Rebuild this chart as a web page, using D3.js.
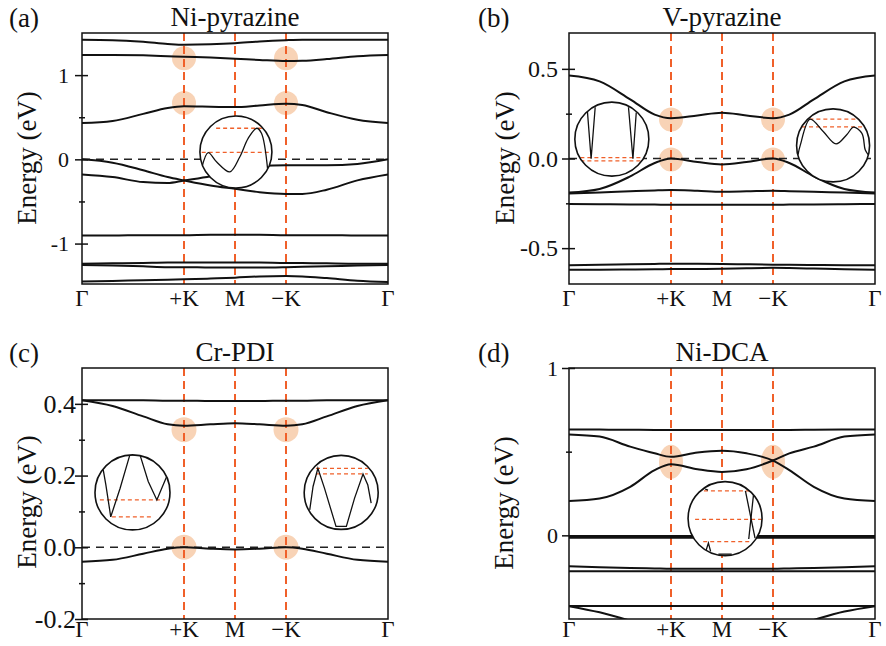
<!DOCTYPE html>
<html>
<head>
<meta charset="utf-8">
<script src="https://cdn.jsdelivr.net/npm/d3@7"></script>
<style>
  body { margin: 0; background: #fff; }
  svg text { font-family: "Liberation Serif", "Times New Roman", serif; fill: #111; }
</style>
</head>
<body>
<svg id="chart" width="886" height="646"></svg>
<script>
// k-path sampling shared by every band (Γ -> +K -> M -> -K -> Γ)
const kGrid = [0, 0.1, 0.2, 0.28, 1 / 3, 0.42, 0.5, 0.58, 2 / 3, 0.72, 0.8, 0.9, 1];
const kTicks = [0, 1 / 3, 1 / 2, 2 / 3, 1];
const kTickLabels = ["Γ", "+K", "M", "−K", "Γ"];
const kMarks = [1 / 3, 1 / 2, 2 / 3];

// (a) Ni-pyrazine bands, eV
const bandsNiPyr = [
  [1.42, 1.415, 1.395, 1.37, 1.36, 1.365, 1.378, 1.4, 1.415, 1.42, 1.42, 1.42, 1.42],
  [1.24, 1.24, 1.235, 1.225, 1.218, 1.208, 1.195, 1.18, 1.167, 1.17, 1.19, 1.225, 1.24],
  [0.43, 0.455, 0.54, 0.61, 0.63, 0.625, 0.62, 0.64, 0.66, 0.645, 0.56, 0.47, 0.43],
  [0, -0.04, -0.13, -0.21, -0.25, -0.31, -0.35, -0.39, -0.41, -0.41, -0.36, -0.25, -0.18],
  [-0.18, -0.21, -0.27, -0.28, -0.25, -0.2, -0.13, -0.08, -0.07, -0.07, -0.07, -0.055, 0],
  [-0.905, -0.905, -0.9, -0.9, -0.9, -0.895, -0.895, -0.895, -0.9, -0.9, -0.9, -0.905, -0.905],
  [-1.24, -1.235, -1.23, -1.225, -1.225, -1.225, -1.225, -1.225, -1.23, -1.23, -1.235, -1.24, -1.24],
  [-1.255, -1.26, -1.27, -1.28, -1.28, -1.285, -1.285, -1.285, -1.28, -1.275, -1.27, -1.26, -1.255],
  [-1.45, -1.445, -1.435, -1.43, -1.425, -1.415, -1.405, -1.39, -1.385, -1.39, -1.41, -1.44, -1.455]
];
// (b) V-pyrazine
const bandsVPyr = [
  [0.463, 0.43, 0.33, 0.245, 0.225, 0.24, 0.255, 0.24, 0.225, 0.245, 0.33, 0.43, 0.463],
  [-0.19, -0.17, -0.1, -0.025, 0, -0.02, -0.033, -0.02, 0, -0.025, -0.1, -0.17, -0.19],
  [-0.195, -0.19, -0.183, -0.178, -0.176, -0.18, -0.185, -0.183, -0.18, -0.182, -0.186, -0.19, -0.195],
  [-0.254, -0.255, -0.256, -0.257, -0.258, -0.258, -0.258, -0.258, -0.258, -0.257, -0.256, -0.255, -0.254],
  [-0.595, -0.593, -0.59, -0.588, -0.587, -0.587, -0.588, -0.59, -0.592, -0.593, -0.594, -0.595, -0.595],
  [-0.62, -0.62, -0.619, -0.618, -0.617, -0.616, -0.615, -0.612, -0.61, -0.611, -0.614, -0.618, -0.62]
];
// (c) Cr-PDI
const bandsCrPdi = [
  [0.41, 0.41, 0.41, 0.409, 0.409, 0.408, 0.408, 0.408, 0.409, 0.409, 0.41, 0.41, 0.41],
  [0.41, 0.394, 0.365, 0.343, 0.339, 0.343, 0.346, 0.343, 0.339, 0.343, 0.365, 0.394, 0.41],
  [-0.04, -0.035, -0.018, -0.004, 0, -0.004, -0.006, -0.004, 0, -0.004, -0.018, -0.035, -0.04]
];
// (d) Ni-DCA
const bandsNiDca = [
  [0.633, 0.632, 0.631, 0.63, 0.63, 0.629, 0.629, 0.629, 0.63, 0.63, 0.631, 0.632, 0.633],
  [0.603, 0.59, 0.53, 0.49, 0.469, 0.495, 0.505, 0.49, 0.447, 0.39, 0.29, 0.22, 0.205],
  [0.205, 0.22, 0.29, 0.39, 0.425, 0.395, 0.379, 0.395, 0.447, 0.49, 0.53, 0.59, 0.603],
  [-0.004, -0.004, -0.004, -0.004, -0.004, -0.004, -0.004, -0.004, -0.004, -0.004, -0.004, -0.004, -0.004],
  [-0.014, -0.014, -0.014, -0.014, -0.014, -0.014, -0.014, -0.014, -0.014, -0.014, -0.014, -0.014, -0.014],
  [-0.185, -0.19, -0.195, -0.198, -0.2, -0.2, -0.2, -0.2, -0.2, -0.198, -0.195, -0.19, -0.185],
  [-0.214, -0.214, -0.214, -0.214, -0.214, -0.214, -0.214, -0.214, -0.214, -0.214, -0.214, -0.214, -0.214],
  [-0.423, -0.423, -0.423, -0.423, -0.423, -0.423, -0.423, -0.423, -0.423, -0.423, -0.423, -0.423, -0.423],
  [-0.423, -0.46, -0.51, -0.55, -0.57, -0.58, -0.585, -0.58, -0.57, -0.55, -0.505, -0.455, -0.423]
];

// highlighted points [k, E]
const spotsNiPyr = [[1 / 3, 1.2], [2 / 3, 1.2], [1 / 3, 0.67], [2 / 3, 0.67]];
const spotsVPyr = [[1 / 3, 0.218], [2 / 3, 0.218], [1 / 3, -0.005], [2 / 3, -0.005]];
const spotsCrPdi = [[1 / 3, 0.328], [2 / 3, 0.328], [1 / 3, 0], [2 / 3, 0]];
const spotsNiDca = [[1 / 3, 0.44], [2 / 3, 0.44]];

// y ticks
const yMajorNiPyr = [-1, 0, 1], yLabelsNiPyr = ["-1", "0", "1"], yMinorNiPyr = [-0.5, 0.5];
const yMajorVPyr = [-0.5, 0, 0.5], yLabelsVPyr = ["-0.5", "0.0", "0.5"], yMinorVPyr = [-0.25, 0.25];
const yMajorCrPdi = [-0.2, 0, 0.2, 0.4], yLabelsCrPdi = ["-0.2", "0.0", "0.2", "0.4"], yMinorCrPdi = [-0.1, 0.1, 0.3];
const yMajorNiDca = [0, 1], yLabelsNiDca = ["0", "1"], yMinorNiDca = [0.5];

// magnified insets, in local circle units (-1..1, y down)
const insetNiPyrCurve = [[-0.95, 0.45], [-0.77, 0.02], [-0.54, 0.27], [-0.17, 0.55], [0.11, 0.13], [0.34, -0.38], [0.58, -0.66], [0.71, -0.52], [0.88, 0.47]];
const insetNiPyrDash = [[-0.55, 0.72, -0.66], [-0.95, 0.95, 0.01]];
const insetVPyrLeftCurves = [
  [[-0.66, -0.75], [-0.56, 0.53], [-0.45, -0.86]],
  [[0.45, -0.86], [0.57, 0.53], [0.66, -0.72]]
];
const insetVPyrLeftDash = [[-0.85, 0.85, 0.5], [-0.85, 0.85, 0.59]];
const insetVPyrRightCurve = [[-0.96, 0.25], [-0.9, 0], [-0.63, -0.72], [-0.27, -0.38], [0.08, -0.04], [0.38, -0.3], [0.56, -0.5], [0.79, -0.33], [0.88, 0.12], [0.96, 0.25]];
const insetVPyrRightDash = [[-0.65, 1.08, -0.72], [-0.85, 1.08, -0.51]];
const insetCrLeftCurve = [[-0.78, -0.6], [-0.71, -0.2], [-0.58, 0.65], [-0.33, -0.11], [-0.07, -1.0], [0.2, -1.0], [0.42, -0.29], [0.65, 0.2], [0.78, -0.11], [0.91, -0.42]];
const insetCrLeftDash = [[-0.87, 0.87, 0.2], [-0.55, 0.55, 0.65]];
const insetCrRightCurve = [[-0.85, 0.47], [-0.76, -0.16], [-0.63, -0.65], [-0.45, -0.11], [-0.14, 0.92], [0.14, 0.92], [0.36, 0.16], [0.59, -0.5], [0.72, -0.2], [0.81, 0.29]];
const insetCrRightDash = [[-0.68, 0.72, -0.65], [-0.68, 0.72, -0.5]];
const insetNiDcaCurves = [
  [[0.55, -0.75], [0.81, 0.53]],
  [[0.78, -0.75], [0.64, 0.55]],
  [[-0.51, 0.85], [-0.45, 0.66], [-0.39, 0.89]],
  [[-0.18, 0.96], [0.18, 0.96]],
  [[-0.54, -0.8], [-0.46, -0.77]]
];
const insetNiDcaDash = [[-0.76, 0.95, -0.75], [-0.81, 0.99, 0.02], [-0.59, 0.72, 0.62]];

const ORANGE = "#f0602a";
const SPOT = "#f8d3b6";
const W = 306, H = 251;

const panels = [
  { id: "a", tag: "(a)", title: "Ni-pyrazine", left: 82, top: 33, yDomain: [-1.48, 1.5],
    bands: bandsNiPyr, spots: spotsNiPyr, spotR: [12, 12], fermi: true,
    major: yMajorNiPyr, majorLabels: yLabelsNiPyr, minor: yMinorNiPyr, tickFont: 22, tickPad: 6,
    xLabelDy: 22, yLabelX: -46, yLabelCy: 125, tagX: -73,
    insets: [{ k: 0.503, e: 0.087, r: 36, curves: [insetNiPyrCurve], dash: insetNiPyrDash, smooth: true }] },
  { id: "b", tag: "(b)", title: "V-pyrazine", left: 569, top: 33, yDomain: [-0.7, 0.7],
    bands: bandsVPyr, spots: spotsVPyr, spotR: [12, 12], fermi: true,
    major: yMajorVPyr, majorLabels: yLabelsVPyr, minor: yMinorVPyr, tickFont: 24, tickPad: 4,
    xLabelDy: 22, yLabelX: -55, yLabelCy: 125, tagX: -91,
    insets: [
      { k: 0.14, e: 0.108, r: 37, curves: insetVPyrLeftCurves, dash: insetVPyrLeftDash, smooth: false },
      { k: 0.863, e: 0.073, r: 36.5, curves: [insetVPyrRightCurve], dash: insetVPyrRightDash, smooth: true }
    ] },
  { id: "c", tag: "(c)", title: "Cr-PDI", left: 82, top: 368, yDomain: [-0.2, 0.5],
    bands: bandsCrPdi, spots: spotsCrPdi, spotR: [12.5, 12.5], fermi: true,
    major: yMajorCrPdi, majorLabels: yLabelsCrPdi, minor: yMinorCrPdi, tickFont: 26, tickPad: -1,
    xLabelDy: 18, yLabelX: -46, yLabelCy: 134, tagX: -73,
    insets: [
      { k: 0.165, e: 0.153, r: 37.5, curves: [insetCrLeftCurve], dash: insetCrLeftDash, smooth: false },
      { k: 0.847, e: 0.153, r: 37, curves: [insetCrRightCurve], dash: insetCrRightDash, smooth: false }
    ] },
  { id: "d", tag: "(d)", title: "Ni-DCA", left: 569, top: 368, yDomain: [-0.5, 1],
    bands: bandsNiDca, spots: spotsNiDca, spotR: [12, 17], fermi: false,
    major: yMajorNiDca, majorLabels: yLabelsNiDca, minor: yMinorNiDca, tickFont: 22, tickPad: 4,
    xLabelDy: 18, yLabelX: -56, yLabelCy: 135, tagX: -91,
    insets: [{ k: 0.51, e: 0.1, r: 37, curves: insetNiDcaCurves, dash: insetNiDcaDash, smooth: false }] }
];

const svg = d3.select("#chart");
svg.append("rect").attr("width", 886).attr("height", 646).attr("fill", "#fff");

panels.forEach(drawPanel);

function drawPanel(p) {
  const g = svg.append("g").attr("transform", `translate(${p.left},${p.top})`);
  const x = d3.scaleLinear().domain([0, 1]).range([0, W]);
  const y = d3.scaleLinear().domain(p.yDomain).range([H, 0]);

  g.append("clipPath").attr("id", `clip-${p.id}`)
    .append("rect").attr("width", W).attr("height", H);
  const plot = g.append("g").attr("clip-path", `url(#clip-${p.id})`);

  // highlighted crossings
  plot.selectAll("ellipse.spot").data(p.spots).join("ellipse")
    .attr("class", "spot")
    .attr("cx", d => x(d[0]))
    .attr("cy", d => y(d[1]))
    .attr("rx", p.spotR[0])
    .attr("ry", p.spotR[1])
    .attr("fill", SPOT);

  // high-symmetry guides
  plot.selectAll("line.kmark").data(kMarks).join("line")
    .attr("class", "kmark")
    .attr("x1", d => x(d)).attr("x2", d => x(d))
    .attr("y1", 0).attr("y2", H)
    .attr("stroke", ORANGE).attr("stroke-width", 2)
    .attr("stroke-dasharray", "8,5");

  if (p.fermi) {
    plot.append("line")
      .attr("x1", 0).attr("x2", W)
      .attr("y1", y(0)).attr("y2", y(0))
      .attr("stroke", "#222").attr("stroke-width", 1.5)
      .attr("stroke-dasharray", "8,6");
  }

  const bandLine = d3.line()
    .x((d, i) => x(kGrid[i]))
    .y(d => y(d))
    .curve(d3.curveMonotoneX);

  plot.selectAll("path.band").data(p.bands).join("path")
    .attr("class", "band")
    .attr("d", bandLine)
    .attr("fill", "none")
    .attr("stroke", "#111")
    .attr("stroke-width", 2);

  p.insets.forEach((ins, j) => drawInset(g, ins, x, y, `${p.id}${j}`));

  // frame
  g.append("rect").attr("width", W).attr("height", H)
    .attr("fill", "none").attr("stroke", "#111").attr("stroke-width", 1.5);

  // y axis: major ticks crossing the frame
  const yAxis = g.append("g").call(
    d3.axisLeft(y).tickValues(p.major).tickSize(7).tickPadding(p.tickPad)
      .tickFormat((d, i) => p.majorLabels[i])
  );
  yAxis.select(".domain").remove();
  yAxis.selectAll("line").attr("x1", 6).attr("stroke", "#111").attr("stroke-width", 1.5);
  yAxis.selectAll("text").attr("font-size", p.tickFont).attr("font-family", null).attr("fill", "#111");

  const yMinor = g.append("g").call(
    d3.axisLeft(y).tickValues(p.minor).tickSize(3).tickFormat("")
  );
  yMinor.select(".domain").remove();
  yMinor.selectAll("line").attr("x1", 3).attr("stroke", "#111").attr("stroke-width", 1.5);

  // k labels
  g.selectAll("text.klabel").data(kTicks).join("text")
    .attr("class", "klabel")
    .attr("x", d => x(d))
    .attr("y", H + p.xLabelDy)
    .attr("text-anchor", "middle")
    .attr("font-size", 23)
    .text((d, i) => kTickLabels[i]);

  g.append("text")
    .attr("transform", `translate(${p.yLabelX},${p.yLabelCy}) rotate(-90)`)
    .attr("text-anchor", "middle")
    .attr("font-size", 27)
    .text("Energy (eV)");

  g.append("text")
    .attr("x", W / 2).attr("y", -7)
    .attr("text-anchor", "middle")
    .attr("font-size", 27)
    .text(p.title);

  g.append("text")
    .attr("x", p.tagX).attr("y", -6)
    .attr("font-size", 27)
    .text(p.tag);
}

function drawInset(g, ins, x, y, key) {
  const cx = x(ins.k), cy = y(ins.e), r = ins.r;
  const u = d3.scaleLinear().domain([-1, 1]).range([cx - r, cx + r]);
  const v = d3.scaleLinear().domain([-1, 1]).range([cy - r, cy + r]);

  const ig = g.append("g");
  ig.append("clipPath").attr("id", `inset-${key}`)
    .append("circle").attr("cx", cx).attr("cy", cy).attr("r", r);
  ig.append("circle").attr("cx", cx).attr("cy", cy).attr("r", r).attr("fill", "#fff");

  const inner = ig.append("g").attr("clip-path", `url(#inset-${key})`);
  inner.selectAll("line.idash").data(ins.dash).join("line")
    .attr("class", "idash")
    .attr("x1", d => u(d[0])).attr("x2", d => u(d[1]))
    .attr("y1", d => v(d[2])).attr("y2", d => v(d[2]))
    .attr("stroke", ORANGE).attr("stroke-width", 1.3)
    .attr("stroke-dasharray", "4,3");

  const curve = d3.line().x(d => u(d[0])).y(d => v(d[1]))
    .curve(ins.smooth ? d3.curveCatmullRom : d3.curveLinear);
  inner.selectAll("path.icurve").data(ins.curves).join("path")
    .attr("class", "icurve")
    .attr("d", curve)
    .attr("fill", "none").attr("stroke", "#111").attr("stroke-width", 1.3);

  ig.append("circle").attr("cx", cx).attr("cy", cy).attr("r", r)
    .attr("fill", "none").attr("stroke", "#111").attr("stroke-width", 1.6);
}
</script>
</body>
</html>
